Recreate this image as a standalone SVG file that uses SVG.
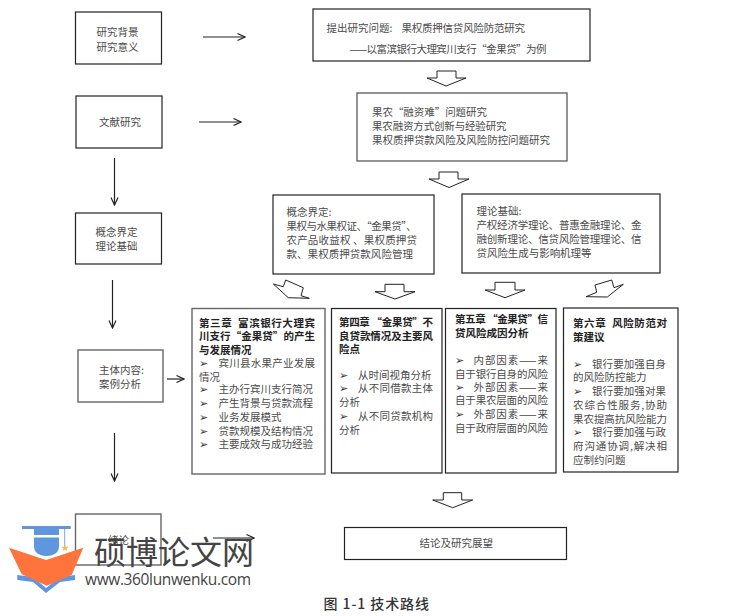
<svg xmlns="http://www.w3.org/2000/svg" width="737" height="616" viewBox="0 0 737 616">
<style>
text{font-family:"Noto Sans CJK SC","Liberation Sans",sans-serif;font-size:10.5px;fill:#4a4a4a}
.b{fill:#222;font-weight:700}
.d{fill:#333}
.box{fill:#fff;stroke:#222;stroke-width:1.2}
.g{stroke:#666;stroke-width:1.4}
.line{fill:none;stroke:#222;stroke-width:1.200;marker-end:url(#a)}
.hollow{fill:#fff;stroke:#222;stroke-width:1}
.bu{font-family:"DejaVu Sans",sans-serif;font-size:11px;fill:#333}
</style>
<defs>
<marker id="a" markerWidth="9" markerHeight="10" refX="8" refY="5" orient="auto" markerUnits="userSpaceOnUse"><path d="M0.500 1.500 L8 5 L0.500 8.500" fill="none" stroke="#222" stroke-width="1.200"/></marker>
</defs>
<rect width="737" height="616" fill="#fff"/>
<g id="connectors">
<path class="line" d="M203 37H245"/>
<path class="line" d="M199 122H241"/>
<path class="line" d="M114.500 158V205"/>
<path class="line" d="M112.500 280V328"/>
<path class="line" d="M114.500 433V481"/>
<path class="line" d="M167 379H184"/>
<path class="line" d="M213 538H254"/>
<polygon class="hollow" points="437,71 456,71 456,78 466,78 446,86 427,78 437,78"/>
<polygon class="hollow" points="439,172 458,172 458,179 469,179 449,187.500 429,179 439,179"/>
<polygon class="hollow" points="273.300,284 283.300,286.700 285.700,280 303.300,287.700 301,295.700 309.300,298.300 288.300,297.700"/>
<polygon class="hollow" points="385,284.300 404,284.300 404,291.700 415,291.700 395,299 375,291.700 385,291.700"/>
<polygon class="hollow" points="495,282.300 515,282.300 515,290 525,290 505,297.700 485,290 495,290"/>
<polygon class="hollow" points="623.300,284.300 614,287.700 611.700,280 595,285 596.700,292.300 586,296.700 607.300,297"/>
<polygon class="hollow" points="443.300,492.700 461.700,492.700 461.700,500 472.700,500 452.700,507.700 432.700,500 443.300,500"/>
</g>
<g id="node-background">
<rect class="box" x="75.500" y="12" width="86" height="52"/>
<text x="96.500" y="36">研究背景</text><text x="96.500" y="51">研究意义</text>
</g>
<g id="node-literature">
<rect class="box" x="76" y="96" width="86" height="52"/>
<text x="99" y="126">文献研究</text>
</g>
<g id="node-concept">
<rect class="box" x="75.500" y="213" width="86" height="51"/>
<text x="95.500" y="236">概念界定</text><text x="95.500" y="250">理论基础</text>
</g>
<g id="node-main">
<rect class="box g" x="78" y="350" width="85" height="52"/>
<text x="99" y="374">主体内容:</text><text x="99" y="388">案例分析</text>
</g>
<g id="node-intro">
<rect class="box g" x="75.500" y="514" width="85.500" height="51"/>
<text x="108" y="544">绪论</text>
</g>
<g id="node-question">
<rect class="box" x="313" y="9" width="277" height="52"/>
<text x="326.500" y="32">提出研究问题:</text>
<text x="401.500" y="32" textLength="123.500">果权质押信贷风险防范研究</text>
<text x="349" y="53" textLength="197">——以富滨银行大理宾川支行“金果贷”为例</text>
</g>
<g id="node-review">
<rect class="box g" x="357" y="93" width="210" height="68"/>
<text x="372" y="116" textLength="115">果农“融资难”问题研究</text>
<text x="372" y="130" textLength="134.500">果农融资方式创新与经验研究</text>
<text x="372" y="144" textLength="178">果权质押贷款风险及风险防控问题研究</text>
</g>
<g id="node-definition">
<rect class="box" x="273" y="195" width="161" height="79"/>
<text x="286.500" y="216">概念界定:</text>
<text x="286.500" y="230" textLength="130">果权与水果权证、“金果贷”、</text>
<text x="286.500" y="244" textLength="130.500">农产品收益权 、果权质押贷</text>
<text x="286.500" y="258" textLength="126.500">款、果权质押贷款风险管理</text>
</g>
<g id="node-theory">
<rect class="box" x="462" y="194" width="198" height="79"/>
<text x="476.500" y="215">理论基础:</text>
<text x="476.500" y="229" textLength="165">产权经济学理论、普惠金融理论、金</text>
<text x="476.500" y="243" textLength="165">融创新理论、信贷风险管理理论、信</text>
<text x="476.500" y="257" textLength="115">贷风险生成与影响机理等</text>
</g>
<g id="node-ch3">
<rect class="box g" x="192" y="308.500" width="133" height="165.500"/>
<text class="b" x="199" y="326.500" textLength="116" xml:space="preserve">第三章  富滨银行大理宾</text>
<text class="b" x="199" y="340" textLength="116">川支行“金果贷”的产生</text>
<text class="b" x="199" y="353.500">与发展情况</text>
<text class="bu" x="199" y="367">➢</text><text x="218.500" y="367" textLength="96.500">宾川县水果产业发展</text>
<text x="199" y="380.500">情况</text>
<text class="bu" x="199" y="393">➢</text><text x="218.500" y="393">主办行宾川支行简况</text>
<text class="bu" x="199" y="407">➢</text><text x="218.500" y="407">产生背景与贷款流程</text>
<text class="bu" x="199" y="420.500">➢</text><text x="218.500" y="420.500">业务发展模式</text>
<text class="bu" x="199" y="434.500">➢</text><text x="218.500" y="434.500">贷款规模及结构情况</text>
<text class="bu" x="199" y="448">➢</text><text x="218.500" y="448">主要成效与成功经验</text>
</g>
<g id="node-ch4">
<rect class="box" x="331.500" y="308.500" width="110.500" height="164.500"/>
<text class="b" x="339" y="325.500" textLength="94">第四章 “金果贷”不</text>
<text class="b" x="339" y="339.500" textLength="94">良贷款情况及主要风</text>
<text class="b" x="339" y="353">险点</text>
<text class="bu" x="339" y="379">➢</text><text x="358" y="379">从时间视角分析</text>
<text class="bu" x="339" y="392">➢</text><text x="358" y="392" textLength="75">从不同借款主体</text>
<text x="339" y="405.500">分析</text>
<text class="bu" x="339" y="420">➢</text><text x="358" y="420" textLength="75">从不同贷款机构</text>
<text x="339" y="433.500">分析</text>
</g>
<g id="node-ch5">
<rect class="box" x="445.500" y="308.500" width="110.500" height="164.500"/>
<text class="b" x="455" y="322.500" textLength="93">第五章 “金果贷”信</text>
<text class="b" x="455" y="337">贷风险成因分析</text>
<text class="bu" x="455" y="364">➢</text><text x="473.500" y="364" textLength="74.500">内部因素——来</text>
<text x="455" y="377.500" textLength="93">自于银行自身的风险</text>
<text class="bu" x="455" y="390.500">➢</text><text x="473.500" y="390.500" textLength="74.500">外部因素——来</text>
<text x="455" y="404" textLength="93">自于果农层面的风险</text>
<text class="bu" x="455" y="418">➢</text><text x="473.500" y="418" textLength="74.500">外部因素——来</text>
<text x="455" y="432" textLength="93">自于政府层面的风险</text>
</g>
<g id="node-ch6">
<rect class="box" x="563.500" y="308" width="114.500" height="164"/>
<text class="b" x="573" y="327" textLength="94" xml:space="preserve">第六章  风险防范对</text>
<text class="b" x="573" y="341">策建议</text>
<text class="bu" x="573" y="367.500">➢</text><text x="592" y="367.500" textLength="74">银行要加强自身</text>
<text x="573" y="381">的风险防控能力</text>
<text class="bu" x="573" y="394.500">➢</text><text x="592" y="394.500" textLength="74">银行要加强对果</text>
<text x="573" y="409" textLength="94">农综合性服务,协助</text>
<text x="573" y="422.500" textLength="94">果农提高抗风险能力</text>
<text class="bu" x="573" y="436">➢</text><text x="592" y="436" textLength="74">银行要加强与政</text>
<text x="573" y="450" textLength="94">府沟通协调,解决相</text>
<text x="573" y="463.500">应制约问题</text>
</g>
<g id="node-conclusion">
<rect class="box" x="344.500" y="527.500" width="222" height="32"/>
<text x="419.500" y="547" textLength="73.500">结论及研究展望</text>
</g>
<g id="caption">
<text class="d" x="323.500" y="609" style="font-size:14px;font-weight:500" textLength="105.500">图 1-1 技术路线</text>
</g>
<g id="logo">
<path d="M17.300 575L17.300 580L33 582L46 593L60 582L75 580L75 575L60 577L46 588L33 577Z" fill="#5f96de"/>
<polygon points="9,547.700 46,560 83.300,547.700 71.700,575 46.700,585.700 21.700,574.300" fill="#ff743c"/>
<rect x="22" y="526" width="48.700" height="3" fill="#5f96de"/>
<rect x="34" y="529" width="25" height="6" fill="#5f96de"/>
<path d="M34 537.500H59V546Q59 555.500 46.500 556Q34 555.500 34 546Z" fill="#5f96de"/>
<rect x="64" y="529" width="1.200" height="17" fill="#8fb5e8"/>
<polygon points="65,544.500 66,546.800 68.300,547 66.500,548.500 67.200,550.800 65,549.500 62.800,550.800 63.500,548.500 61.700,547 64,546.800" fill="#fbb450"/>
<text x="94" y="564" style="font-size:32px;fill:#444">硕博论文网</text>
<text x="85" y="585" style="font-family:'Open Sans','Liberation Sans',sans-serif;font-size:15.500px;fill:#444" textLength="166">www.360lunwenku.com</text>
</g>
</svg>
